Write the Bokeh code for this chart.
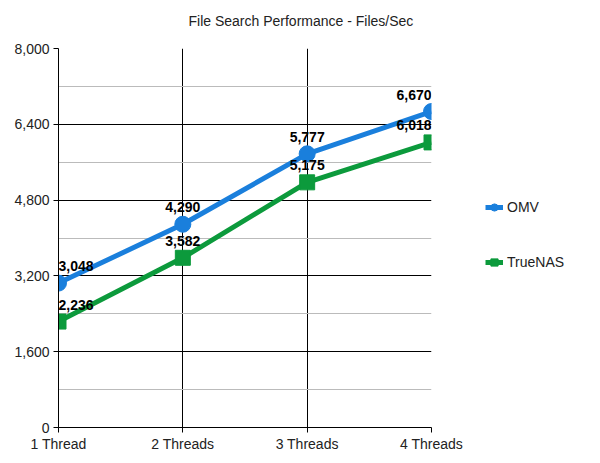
from bokeh.plotting import figure
from bokeh.models import (ColumnDataSource, FixedTicker, NumeralTickFormatter,
                          Range1d, Legend, LegendItem, Title)
from bokeh.core.properties import value
from bokeh.embed import file_html
from bokeh.resources import INLINE

# data
categories = ['1 Thread', '2 Threads', '3 Threads', '4 Threads']
omv = [3048, 4290, 5777, 6670]
truenas = [2236, 3582, 5175, 6018]
y_ticks = [0, 1600, 3200, 4800, 6400, 8000]
y_minor = [800, 2400, 4000, 5600, 7200]

OMV_COLOR = '#1a7fdc'
TRUENAS_COLOR = '#0c9a3c'
FONT = 'Liberation Sans'

x = list(range(len(categories)))
# annotation alignment: keep first/last labels inside the plot area
aligns = ['left'] + ['center'] * (len(x) - 2) + ['right']


def fmt(v):
    return '{:,}'.format(v)


omv_source = ColumnDataSource(data=dict(x=x, y=omv, label=[fmt(v) for v in omv], align=aligns))
tn_source = ColumnDataSource(data=dict(x=x, y=truenas, label=[fmt(v) for v in truenas], align=aligns))

p = figure(frame_width=373, frame_height=379,
           output_backend="svg",
           toolbar_location=None,
           x_range=Range1d(0, len(categories) - 1),
           y_range=Range1d(0, 8000),
           min_border_left=58, min_border_right=161,
           min_border_top=48, min_border_bottom=28)
p.outline_line_color = None
p.background_fill_color = 'white'
p.border_fill_color = 'white'

# trailing empty line lifts the title away from the plot area
p.add_layout(Title(text='File Search Performance - Files/Sec\n', align='left',
                   offset=130, standoff=8, vertical_align='bottom',
                   text_font=FONT, text_font_size='14px',
                   text_font_style='normal', text_color='#222222'), 'above')

# axes
p.yaxis.ticker = FixedTicker(ticks=y_ticks, minor_ticks=y_minor)
p.yaxis.formatter = NumeralTickFormatter(format='0,0')
p.xaxis.ticker = FixedTicker(ticks=x)
p.xaxis.major_label_overrides = {i: c for i, c in enumerate(categories)}
for ax in (p.xaxis, p.yaxis):
    ax.axis_line_color = 'black'
    ax.axis_line_width = 1
    ax.major_tick_line_color = 'black'
    ax.major_tick_out = 5
    ax.major_tick_in = 0
    ax.minor_tick_line_color = None
    ax.major_label_text_font = FONT
    ax.major_label_text_font_size = '14px'
    ax.major_label_text_color = '#222222'
p.xaxis.major_label_standoff = 3
p.yaxis.major_label_standoff = 4

p.xgrid.grid_line_color = 'black'
p.xgrid.grid_line_width = 1
p.ygrid.grid_line_color = 'black'
p.ygrid.grid_line_width = 1
p.ygrid.minor_grid_line_color = '#bbbbbb'
p.ygrid.minor_grid_line_width = 1

# series
l1 = p.line('x', 'y', source=omv_source, line_color=OMV_COLOR, line_width=5)
m1 = p.scatter('x', 'y', source=omv_source, marker='circle', size=16,
               fill_color=OMV_COLOR, line_color=OMV_COLOR)
l2 = p.line('x', 'y', source=tn_source, line_color=TRUENAS_COLOR, line_width=5)
m2 = p.scatter('x', 'y', source=tn_source, marker='square', size=15,
               fill_color=TRUENAS_COLOR, line_color=TRUENAS_COLOR)

# data labels
for src in (omv_source, tn_source):
    p.text('x', 'y', text='label', source=src, text_align='align',
           text_baseline='bottom', y_offset=-12,
           text_font=value(FONT), text_font_size='14px',
           text_font_style='bold', text_color='black')

legend = Legend(items=[LegendItem(label='OMV', renderers=[l1, m1]),
                       LegendItem(label='TrueNAS', renderers=[l2, m2])],
                location=(54, 156), orientation='vertical',
                spacing=37, padding=0, margin=0,
                glyph_width=18, glyph_height=18, label_standoff=4,
                label_text_font=FONT, label_text_font_size='14px',
                label_text_color='#222222',
                border_line_color=None, background_fill_alpha=0)
p.add_layout(legend, 'right')

open("out.html", "w").write(file_html(p, INLINE))
